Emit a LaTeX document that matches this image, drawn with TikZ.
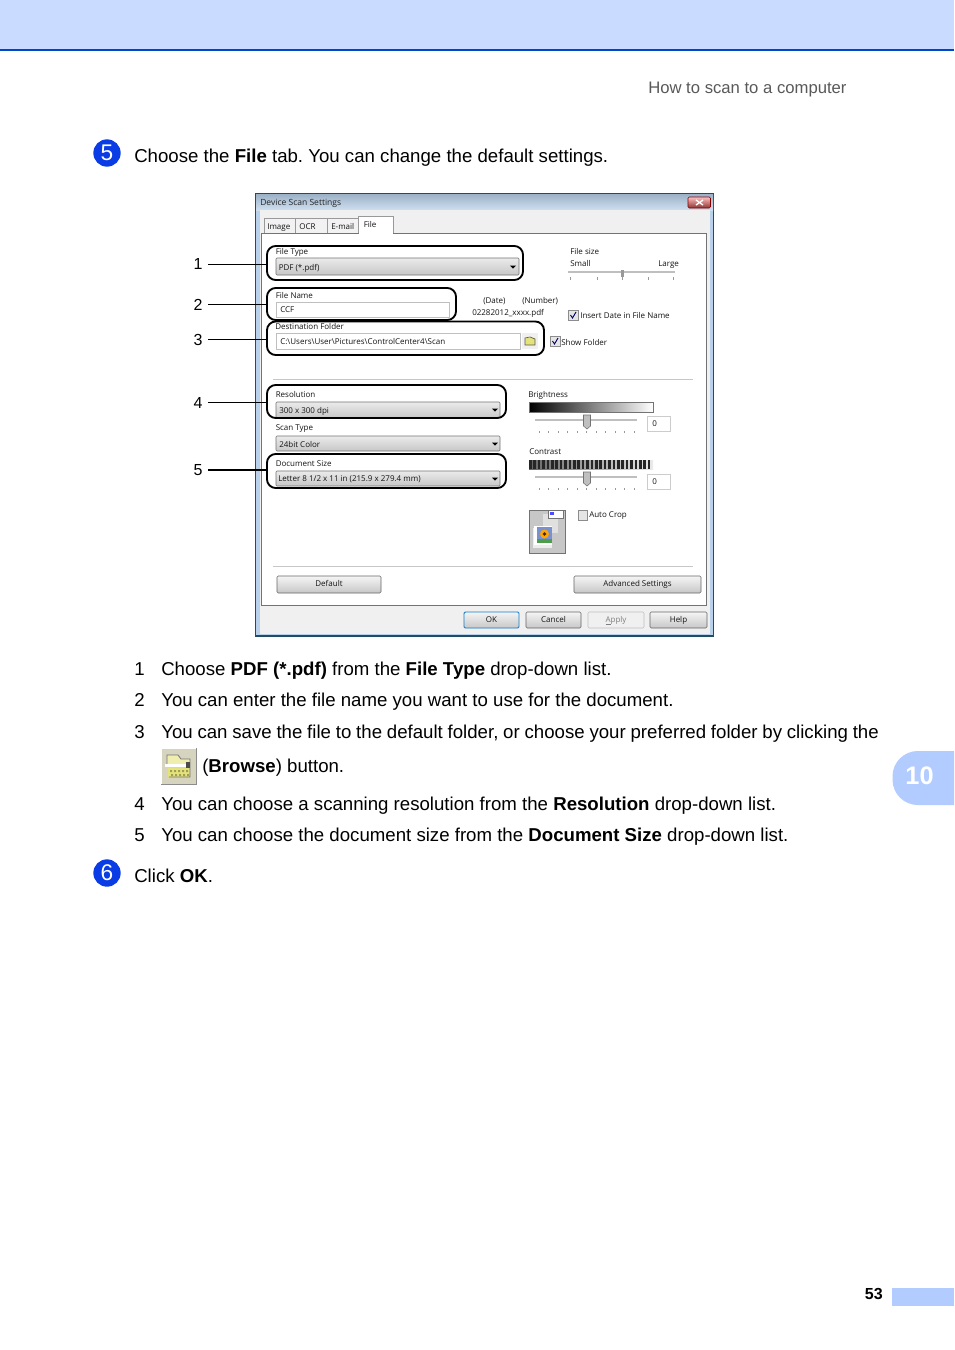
\documentclass[tikz,border=0pt]{standalone}
\usepackage{fontspec}
\setmainfont{Liberation Sans}
\newfontfamily\uifont{Open Sans}
\usetikzlibrary{fit}
\frenchspacing

\definecolor{bandblue}{HTML}{C9DBFF}
\definecolor{tabblue}{HTML}{B3CCFF}
\definecolor{ruleblue}{HTML}{0047C8}
\definecolor{bulletblue}{HTML}{0A3CE6}
\definecolor{framedark}{HTML}{1F4E63}
\definecolor{frameblue}{HTML}{B9D1EA}
\definecolor{uigray}{HTML}{F0F0F0}
\definecolor{iconbeige}{HTML}{D6D3BE}
\definecolor{iconyellow}{HTML}{E4E27A}

\tikzset{
    bodytext/.style={anchor=base west, inner sep=0pt, font=\fontsize{13.98}{16}\selectfont},
    uitext/.style={anchor=base west, inner sep=0pt, text=black!92, font=\uifont\fontsize{6}{7}\selectfont},
    btnlabel/.style={inner sep=0pt, text height=4.6pt, text depth=1.2pt, text=black!92, font=\uifont\fontsize{6}{7}\selectfont},
    bullet/.style={circle, fill=bulletblue, text=white, inner sep=0pt, minimum size=20.5pt, font=\fontsize{17}{18}\selectfont},
    leadnum/.style={inner sep=0pt, minimum height=12pt, minimum width=15pt, font=\fontsize{12}{14}\selectfont},
    callout/.style={draw=black, line width=1.4pt, rounded corners=6.5pt, inner sep=0pt},
    leader/.style={line width=0.6pt, black},
    leaderthick/.style={line width=1.1pt, black},
    combo/.style={draw=black!55, rounded corners=0.8pt, inner sep=0pt, top color=white!92!black, bottom color=black!22},
    editbox/.style={draw=black!25, fill=white, inner sep=0pt},
    btn/.style={draw=black!60, rounded corners=1pt, inner sep=0pt, top color=black!4, bottom color=black!22},
    checkbox/.style={draw=black!45, fill=black!10, inner sep=0pt},
    seprule/.style={draw=black!22, line width=0.6pt},
    track/.style={draw=black!25, line width=0.9pt},
    tick/.style={draw=black!40, line width=0.35pt}
}

\begin{document}
\begin{tikzpicture}[x=0.75pt, y=-0.75pt]
    \useasboundingbox (0,0) rectangle (954,1350);
    \fill[white] (0,0) rectangle (954,1350);

    % page furniture
    \fill[bandblue] (0,0) rectangle (954,49);
    \fill[ruleblue] (0,49) rectangle (954,50.5);
    \node[anchor=base west, inner sep=0pt, text=black!65, font=\fontsize{12.5}{15}\selectfont] (header) at (648,93) {How to scan to a computer};
    \fill[tabblue] (954,751) {[rounded corners=19pt] -- (892.5,751) -- (892.5,805)} -- (954,805) -- cycle;
    \node[text=white, inner sep=0pt, font=\bfseries\fontsize{19}{22}\selectfont] (chapter) at (919.5,776) {10};
    \fill[tabblue] (892,1288) rectangle (954,1306);
    \node[anchor=base east, inner sep=0pt, font=\bfseries\fontsize{12}{14}\selectfont] (pageno) at (883,1299) {53};

    % steps
    \node[bullet] (bullet5) at (107,153) {5};
    \node[bodytext] (step5) at (134,162) {Choose the \textbf{File} tab. You can change the default settings.};
    \node[bullet] (bullet6) at (107,873) {6};
    \node[bodytext] (step6) at (134,882) {Click \textbf{OK}.};

    \node[bodytext] (no1) at (134,675) {1};
    \node[bodytext] (item1) at (161,675) {Choose \textbf{PDF (*.pdf)} from the \textbf{File Type} drop-down list.};
    \node[bodytext] (no2) at (134,706) {2};
    \node[bodytext] (item2) at (161,706) {You can enter the file name you want to use for the document.};
    \node[bodytext] (no3) at (134,738) {3};
    \node[bodytext] (item3) at (161,738) {\spaceskip=3.6pt You can save the file to the default folder, or choose your preferred folder by clicking the};
    \node[bodytext] (item3b) at (202,772) {(\textbf{Browse}) button.};
    \node[bodytext] (no4) at (134,810) {4};
    \node[bodytext] (item4) at (161,810) {You can choose a scanning resolution from the \textbf{Resolution} drop-down list.};
    \node[bodytext] (no5) at (134,841) {5};
    \node[bodytext] (item5) at (161,841) {You can choose the document size from the \textbf{Document Size} drop-down list.};

    % browse button in the text
    \fill[black!45] (161,748) rectangle (197,785);
    \fill[white] (161,748) rectangle (195.5,783.5);
    \fill[iconbeige] (162,749) rectangle (195.5,783.5);
    \fill[iconyellow!60!white] (167,755) -- (178,755) -- (181,759) -- (190,759) -- (190,764) -- (167,764) -- cycle;
    \fill[iconyellow] (168,768) rectangle (189,777);
    \foreach \x in {170,174,...,186}
        \fill[iconyellow!70!black] (\x,770) rectangle +(2,2) (\x+1,774) rectangle +(2,2);
    \draw[black!55, line width=0.6pt] (167,764) -- (167,755) -- (178,755) -- (181,759) -- (190,759) -- (190,777) -- (169,777);
    \fill[white] (165,764) rectangle (186,767);
    \fill[black!70] (186,762) rectangle (190,768);

    % dialog window
    \fill[frameblue] (255,193) rectangle (713.5,636.5);
    \draw[framedark, line width=0.6pt] (255,193) rectangle (713.5,636.5);
    \fill[framedark] (255,635) rectangle (713.5,636.8);
    \shade[top color=frameblue!85!black, bottom color=frameblue!70!white] (256,194) rectangle (713,210);
    \fill[uigray] (260,210) rectangle (710,634);
    \node[uitext, text=black!85, font=\uifont\fontsize{6.4}{7}\selectfont] (title) at (260,205) {Device Scan Settings};
    \node[draw=black!50!red, rounded corners=1pt, top color=red!25!white, bottom color=red!45!black!80, inner sep=0pt, fit={(688,197) (710.5,208)}] (closebtn) {};
    \draw[white, line width=1pt] (696,200) -- (703,205) (703,200) -- (696,205);

    % tabs
    \draw[black!40, fill=white!95!black] (264,233) -- (264,218) -- (295,218) -- (295,233);
    \draw[black!40, fill=white!95!black] (295,233) -- (295,218) -- (327,218) -- (327,233);
    \draw[black!40, fill=white!95!black] (327,233) -- (327,218) -- (358,218) -- (358,233);
    \draw[black!55, fill=white] (261,233) rectangle (706,605);
    \draw[black!40, fill=white] (358,233) -- (358,216) -- (393,216) -- (393,233);
    \fill[white] (358.5,232) rectangle (392.5,234);
    \node[uitext] (tabimage) at (267,229) {Image};
    \node[uitext] (tabocr) at (299,229) {OCR};
    \node[uitext] (tabemail) at (331,229) {E-mail};
    \node[uitext] (tabfile) at (363.5,227) {File};

    % left column
    \node[uitext] (lbltype) at (275.5,254) {File Type};
    \node[combo, fit={(276,258) (519,275)}] (combotype) {};
    \node[uitext] (txttype) at (278.5,270) {PDF (*.pdf)};
    \node[uitext] (lblname) at (275.5,298) {File Name};
    \node[editbox, fit={(276,302) (449,317)}] (editname) {};
    \node[uitext] (txtname) at (280,312) {CCF};
    \node[uitext] (lbldest) at (275,329) {Destination Folder};
    \node[editbox, fit={(276,333) (520,349)}] (editdest) {};
    \node[uitext] (txtdest) at (280,344) {C:\textbackslash Users\textbackslash User\textbackslash Pictures\textbackslash ControlCenter4\textbackslash Scan};
    \fill[uigray] (522,333) rectangle (538,349);
    \fill[iconyellow] (525,338) rectangle (535,345);
    \draw[black!65, line width=0.5pt] (525,345) -- (525,338) -- (530,337) -- (535,339) -- (535,345) -- cycle;

    \node[uitext] (lblres) at (275.5,397) {Resolution};
    \node[combo, fit={(276,402) (500,418)}] (combores) {};
    \node[uitext] (txtres) at (279,413) {300 x 300 dpi};
    \node[uitext] (lblscan) at (275.5,430) {Scan Type};
    \node[combo, fit={(276,436) (500,451)}] (comboscan) {};
    \node[uitext] (txtscan) at (279,447) {24bit Color};
    \node[uitext] (lblsize) at (275.5,466) {Document Size};
    \node[combo, fit={(276,471) (500,486)}] (combosize) {};
    \node[uitext] (txtsize) at (278,481) {Letter 8 1/2 x 11 in (215.9 x 279.4 mm)};
    \foreach \x/\y in {513/267, 495/410, 495/444, 495/479}
        \fill[black] (\x-3,\y-1.5) -- (\x+3,\y-1.5) -- (\x,\y+1.5) -- cycle;

    % file size and name parts
    \node[uitext] (lblfile) at (570,254) {File size};
    \node[uitext] (lblsmall) at (570,266) {Small};
    \node[uitext] (lbllarge) at (658,266) {Large};
    \draw[track] (568,272) -- (675,272);
    \foreach \x in {570,597,622,648,673}
        \draw[tick] (\x,277) -- (\x,280);
    \fill[black!40] (620.5,270) rectangle (623.5,277);
    \node[uitext] (lbldate) at (483,303) {(Date)};
    \node[uitext] (lblnumber) at (522,303) {(Number)};
    \node[uitext] (lblpattern) at (472,315) {02282012\_xxxx.pdf};
    \node[checkbox, fit={(568,310) (578,320)}] (chkdate) {};
    \draw[black!60!blue, line width=0.7pt] (570.5,315) -- (572.5,318) -- (576,312);
    \node[uitext] (lblinsert) at (580,318) {Insert Date in File Name};
    \node[checkbox, fit={(550,336) (560,346)}] (chkfolder) {};
    \draw[black!60!blue, line width=0.7pt] (552.5,341) -- (554.5,344) -- (558,338);
    \node[uitext] (lblshow) at (561,345) {Show Folder};

    \draw[seprule] (273,379) -- (693,379);
    \draw[seprule] (273,566) -- (693,566);

    % brightness and contrast
    \node[uitext] (lblbright) at (528,397) {Brightness};
    \node[draw=black!55, inner sep=0pt, left color=black, right color=white, fit={(529,402) (653,412)}] (barbright) {};
    \node[uitext] (lblcontrast) at (529,454) {Contrast};
    \node[inner sep=0pt, left color=black!60, right color=black!8, fit={(529,460) (653,469)}] (barcontrast) {};
    \foreach \x in {529,533.4,...,651}
        \fill[black!85] (\x,460) rectangle +(2.6,9);
    \foreach \y in {420,477} {
        \draw[track] (535,\y) -- (637,\y);
        \foreach \x in {539,548.5,...,635}
            \draw[tick] (\x,\y+11) -- (\x,\y+13);
        \fill[black!25, draw=black!55, line width=0.4pt] (583.5,\y-5) -- (590.5,\y-5) -- (590.5,\y+6) -- (587,\y+9) -- (583.5,\y+6) -- cycle;
    }
    \node[editbox, draw=black!20, fit={(647,416) (670,431)}] (spinbright) {};
    \node[uitext] (valbright) at (652,426) {0};
    \node[editbox, draw=black!20, fit={(647,474) (670,489)}] (spincontrast) {};
    \node[uitext] (valcontrast) at (652,484) {0};

    % thumbnail of the auto crop setting
    \fill[black!22, draw=black!55, line width=0.5pt] (529,510) rectangle (565,553);
    \fill[black!12] (543,514) rectangle (558,533);
    \fill[black!7] (533,528) rectangle (552,548);
    \fill[white] (548,510) rectangle (563,518);
    \draw[black!55, line width=0.4pt] (548,510) rectangle (563,518);
    \fill[blue!70!white] (550,512) rectangle (554,515);
    \fill[white] (534,526) rectangle (552,545);
    \fill[cyan!35!blue!55!white] (537,527) rectangle (552,539);
    \fill[green!45!black!70] (537,539) rectangle (552,543);
    \fill[orange!70!yellow] (544.5,534) circle (4.5);
    \fill[black!70!orange] (544.5,534) circle (1.8);
    \node[checkbox, fit={(578,510) (587,520)}] (chkcrop) {};
    \node[uitext] (lblcrop) at (589,517) {Auto Crop};

    % buttons
    \node[btn, fit={(277,576) (381,593)}] (btndefault) {};
    \node[btnlabel] (txtdefault) at (btndefault.center) {Default};
    \node[btn, fit={(574,576) (701,593)}] (btnadvanced) {};
    \node[btnlabel] (txtadvanced) at (btnadvanced.center) {Advanced Settings};
    \node[btn, draw=cyan!60!blue, line width=0.7pt, fit={(464,612) (519,628)}] (btnok) {};
    \node[btnlabel] (txtok) at (btnok.center) {OK};
    \node[btn, fit={(526,612) (581,628)}] (btncancel) {};
    \node[btnlabel] (txtcancel) at (btncancel.center) {Cancel};
    \node[btn, draw=black!25, top color=uigray, bottom color=uigray, fit={(588,612) (644,628)}] (btnapply) {};
    \node[btnlabel, text=black!50] (txtapply) at (btnapply.center) {\underline{A}pply};
    \node[btn, fit={(650,612) (707,628)}] (btnhelp) {};
    \node[btnlabel] (txthelp) at (btnhelp.center) {Help};

    % call-outs
    \node[callout, fit={(267,246) (523,280)}] (boxtype) {};
    \node[callout, fit={(267,288) (456,320)}] (boxname) {};
    \node[callout, fit={(267,321.5) (544,355)}] (boxdest) {};
    \node[callout, fit={(267,385) (506,418)}] (boxres) {};
    \node[callout, fit={(267,454) (506,488)}] (boxsize) {};

    \node[leadnum] (num1) at (198,264) {1};
    \node[leadnum] (num2) at (198,304.5) {2};
    \node[leadnum] (num3) at (198,339.5) {3};
    \node[leadnum] (num4) at (198,402.5) {4};
    \node[leadnum] (num5) at (198,470) {5};
    \draw[leader] (num1.east) -- (boxtype.west |- num1.east);
    \draw[leaderthick] (num2.east) -- (boxname.west |- num2.east);
    \draw[leader] (num3.east) -- (boxdest.west |- num3.east);
    \draw[leader] (num4.east) -- (boxres.west |- num4.east);
    \draw[leaderthick] (num5.east) -- (boxsize.west |- num5.east);
\end{tikzpicture}
\end{document}
